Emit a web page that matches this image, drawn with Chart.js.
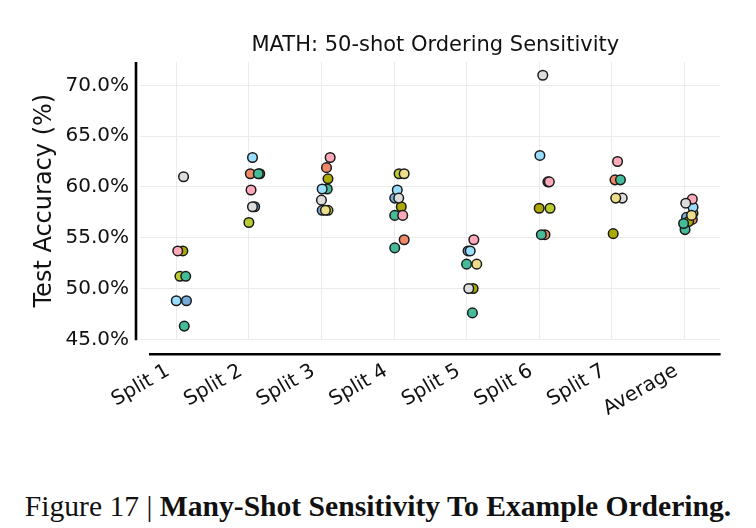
<!DOCTYPE html>
<html>
<head>
<meta charset="utf-8">
<script src="https://cdn.jsdelivr.net/npm/chart.js@4"></script>
<style>
  body { margin: 0; background: #fff; width: 756px; height: 528px; position: relative; overflow: hidden; }
  #chart { position: absolute; left: 0; top: 0; }
  #caption {
    position: absolute; left: 0; width: 756px; top: 490px; text-align: center;
    font-family: "Liberation Serif", serif; font-size: 29.6px; color: #111; white-space: nowrap;
  }
  #caption b { font-weight: bold; }
</style>
</head>
<body>
<canvas id="chart" width="756" height="470"></canvas>
<div id="caption">Figure 17 | <b>Many-Shot Sensitivity To Example Ordering.</b></div>
<script>
// categories on the x axis
const categories = ['Split 1', 'Split 2', 'Split 3', 'Split 4', 'Split 5', 'Split 6', 'Split 7', 'Average'];
const yTicks = [45, 50, 55, 60, 65, 70];
const chartTitle = 'MATH: 50-shot Ordering Sensitivity';

// accuracy (%) per ordering, one value per category (null = not visible)
const blueVals      = [48.8, 58.05, 57.7, 58.9, 53.7, 60.5, null, 57.0];
const lightBlueVals = [48.8, 62.9, 59.8, 59.7, 53.7, 63.1, null, 58.0];
const tealVals      = [51.2, 61.3, 59.8, 57.2, 52.4, 55.3, 60.7, 56.4];
const limeVals      = [51.2, 56.5, 57.7, 61.3, null, 57.9, null, 57.4];
const oliveVals     = [53.7, 61.3, 60.8, 58.05, 50.0, 57.9, 55.4, 56.6];
const yellowVals    = [null, null, 57.7, 61.3, 52.4, null, 58.9, 57.2];
const salmonVals    = [null, 61.3, 61.9, 54.8, null, 55.3, 60.7, 56.8];
const pinkVals      = [53.7, 59.7, 62.9, 57.2, 54.8, 60.5, 62.5, 58.8];
const grayVals      = [61.0, 58.05, 58.7, 58.9, 50.0, 71.0, 58.9, 58.4];
const teal2Vals     = [46.3, null, null, 54.0, 47.6, null, null, 55.8];

// strip-plot jitter (in category units)
const blueJit      = [0.14, 0.08, 0.01, 0.01, 0.02, 0.12, null, 0.03];
const lightBlueJit = [0.00, 0.05, 0.01, 0.045, 0.05, 0.01, null, 0.12];
const tealJit      = [0.13, 0.13, 0.08, 0.01, 0.00, 0.03, 0.12, -0.01];
const limeJit      = [0.05, 0.00, 0.09, 0.07, null, 0.15, null, 0.12];
const oliveJit     = [0.09, 0.15, 0.09, 0.10, 0.09, 0.00, 0.02, 0.06];
const yellowJit    = [null, null, 0.055, 0.14, 0.14, null, 0.055, 0.10];
const salmonJit    = [null, 0.02, 0.07, 0.14, null, 0.08, 0.045, 0.11];
const pinkJit      = [0.02, 0.03, 0.12, 0.12, 0.10, 0.14, 0.08, 0.11];
const grayJit      = [0.10, 0.05, 0.00, 0.065, 0.03, 0.05, 0.145, 0.02];
const teal2Jit     = [0.11, null, null, 0.01, 0.08, null, null, 0.01];

const series = [
  { vals: yellowVals, jit: yellowJit, color: '#EEDD88' },
  { vals: grayVals, jit: grayJit, color: '#DDDDDD' },
  { vals: pinkVals, jit: pinkJit, color: '#FFAABB' },
  { vals: lightBlueVals, jit: lightBlueJit, color: '#99DDFF' },
  { vals: tealVals, jit: tealJit, color: '#44BB99' },
  { vals: oliveVals, jit: oliveJit, color: '#AAAA00' },
  { vals: salmonVals, jit: salmonJit, color: '#EE8866' },
  { vals: limeVals, jit: limeJit, color: '#BBCC33' },
  { vals: blueVals, jit: blueJit, color: '#77AADD' },
  { vals: teal2Vals, jit: teal2Jit, color: '#44BB99' }
];

const datasets = series.map(s => ({
  data: s.vals.map((v, i) => v == null ? null : { x: i + s.jit[i], y: v }).filter(p => p),
  backgroundColor: s.color,
  borderColor: '#1a1a1a',
  borderWidth: 1.5,
  pointRadius: 4.8,
  pointHoverRadius: 4.8
}));

// seaborn style spines (offset) plus the title centred over the plot area
const spines = {
  id: 'spines',
  afterDraw(chart) {
    const { ctx, chartArea } = chart;
    ctx.save();
    ctx.strokeStyle = '#000';
    ctx.lineWidth = 2.6;
    ctx.beginPath();
    ctx.moveTo(chartArea.left - 4, chartArea.top);
    ctx.lineTo(chartArea.left - 4, chartArea.bottom + 1);
    ctx.moveTo(chartArea.left + 9, chartArea.bottom + 15);
    ctx.lineTo(chartArea.right, chartArea.bottom + 15);
    ctx.stroke();

    ctx.fillStyle = '#111';
    ctx.font = '21px "DejaVu Sans"';
    ctx.textAlign = 'center';
    ctx.textBaseline = 'middle';
    ctx.fillText(chartTitle, (chartArea.left + chartArea.right) / 2 + 5, 46);
    ctx.restore();
  }
};

new Chart(document.getElementById('chart'), {
  type: 'scatter',
  data: { datasets },
  options: {
    responsive: false,
    animation: false,
    layout: { padding: { left: 0, right: 35.4, top: 62, bottom: 0 } },
    plugins: {
      legend: { display: false },
      tooltip: { enabled: false }
    },
    scales: {
      x: {
        type: 'linear',
        min: -0.5,
        max: 7.5,
        afterBuildTicks: s => { s.ticks = categories.map((c, i) => ({ value: i })); },
        afterFit: s => { s.height = 130.7; },
        grid: { color: '#ebebeb', lineWidth: 1, drawTicks: false },
        border: { display: false },
        ticks: {
          autoSkip: false,
          minRotation: 30,
          maxRotation: 30,
          padding: 20,
          labelOffset: -8,
          color: '#111',
          font: { family: 'DejaVu Sans', size: 20 },
          callback: v => categories[v]
        }
      },
      y: {
        min: 45,
        max: 72.3,
        afterBuildTicks: s => { s.ticks = yTicks.map(v => ({ value: v })); },
        afterFit: s => { s.width = 140; },
        grid: { color: '#ebebeb', lineWidth: 1, drawTicks: false },
        border: { display: false },
        ticks: {
          padding: 11,
          color: '#111',
          font: { family: 'DejaVu Sans', size: 20 },
          callback: v => v.toFixed(1) + '%'
        },
        title: {
          display: true,
          text: 'Test Accuracy (%)',
          color: '#111',
          font: { family: 'DejaVu Sans', size: 24 },
          padding: { top: 30, bottom: 0 }
        }
      }
    }
  },
  plugins: [spines]
});
</script>
</body>
</html>
